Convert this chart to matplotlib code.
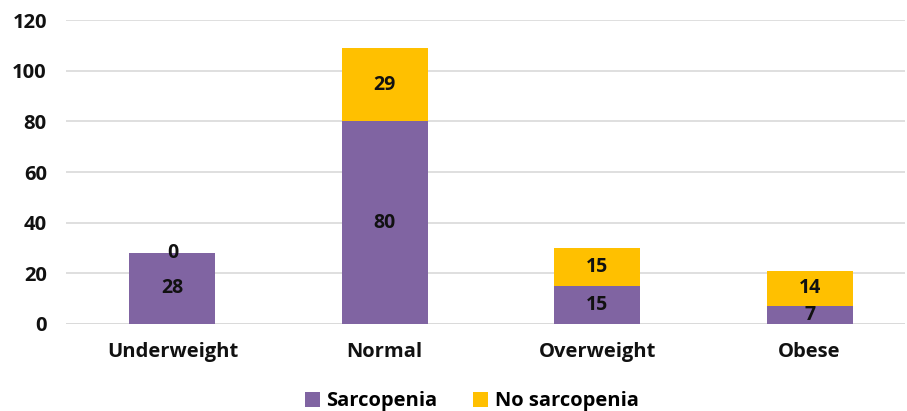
import matplotlib.pyplot as plt
import numpy as np

categories = ['Underweight', 'Normal', 'Overweight', 'Obese']
sarcopenia = [28, 80, 15, 7]
no_sarcopenia = [0, 29, 15, 14]

purple = '#8064A2'
gold = '#FFC000'

plt.rcParams['font.family'] = ['Open Sans', 'DejaVu Sans']
plt.rcParams['font.weight'] = 'bold'

fig = plt.figure(figsize=(9.07, 4.11), dpi=100)
ax = fig.add_axes([0.073, 0.212, 0.925, 0.739])

x = np.arange(len(categories))
w = 0.405
b1 = ax.bar(x, sarcopenia, w, color=purple, label='Sarcopenia', zorder=3)
b2 = ax.bar(x, no_sarcopenia, w, bottom=sarcopenia, color=gold,
            label='No sarcopenia', zorder=3)

# value labels centred in each segment
for xi, s, n in zip(x, sarcopenia, no_sarcopenia):
    ax.text(xi, s / 2, str(s), ha='center', va='center',
            fontsize=14, fontweight='bold', color='#111111', zorder=4)
    ax.text(xi, s + n / 2, str(n), ha='center', va='center',
            fontsize=14, fontweight='bold', color='#111111', zorder=4)

ax.set_ylim(0, 120)
ax.set_yticks(range(0, 121, 20))
ax.set_xlim(-0.5, 3.45)
ax.set_xticks(x)
ax.set_xticklabels(categories)
ax.tick_params(axis='both', length=0, labelsize=14.5, colors='#111111')
ax.tick_params(axis='x', pad=13)
ax.tick_params(axis='y', pad=14)
ax.yaxis.grid(True, color='#D9D9D9', linewidth=1.2, zorder=0)
for sp in ax.spines.values():
    sp.set_visible(False)
ax.axhline(0, color='#D9D9D9', linewidth=1.2, zorder=1)

fig.legend(handles=[b1, b2], loc='lower center', ncol=2, frameon=False,
           bbox_to_anchor=(0.52, -0.045), fontsize=14.5, handlelength=0.75,
           handleheight=0.75, handletextpad=0.3, columnspacing=1.8)

fig.savefig('out.png', dpi=100)
